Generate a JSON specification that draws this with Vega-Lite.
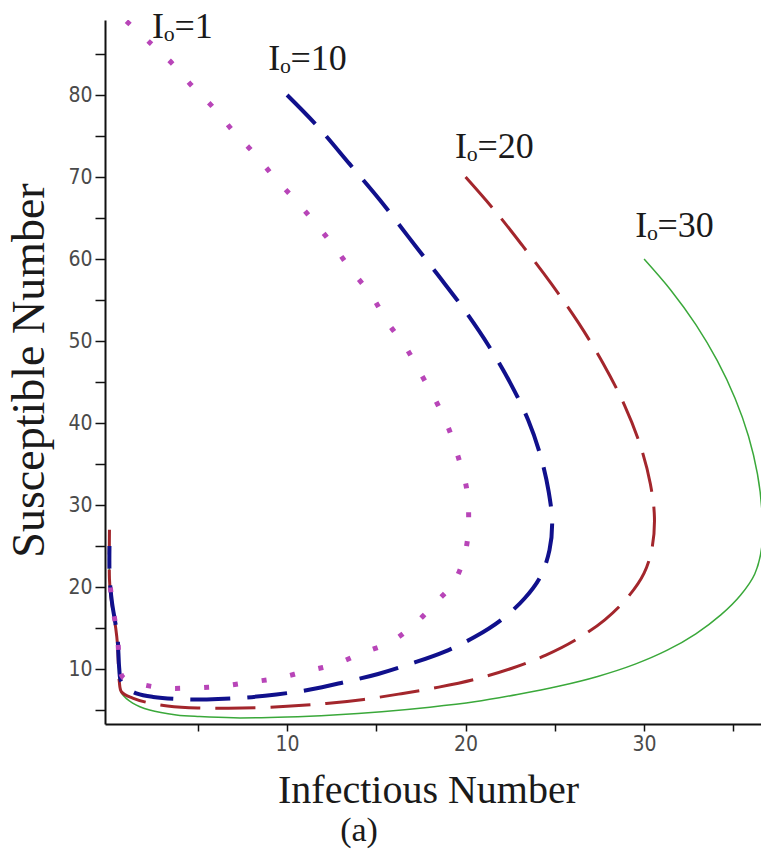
{
  "$schema": "https://vega.github.io/schema/vega-lite/v6.json",
  "width": 656,
  "height": 704,
  "autosize": "none",
  "padding": {"left": 105, "top": 20, "right": 0, "bottom": 143},
  "background": "white",
  "config": {
    "view": {"stroke": null},
    "font": "Liberation Serif",
    "axis": {"labelFont": "Liberation Sans Narrow, DejaVu Sans Condensed, sans-serif"}
  },
  "title": {
    "text": "(a)",
    "orient": "bottom",
    "anchor": "middle",
    "dx": -74,
    "offset": 4,
    "font": "Liberation Serif",
    "fontSize": 34,
    "fontWeight": "normal",
    "color": "#1a1a1a"
  },
  "datasets": {
    "curves": [
      {"curve": "I0=1", "order": 1, "infectious": 1.0, "susceptible": 89.0},
      {"curve": "I0=1", "order": 2, "infectious": 2.36, "susceptible": 86.3},
      {"curve": "I0=1", "order": 3, "infectious": 3.54, "susceptible": 83.9},
      {"curve": "I0=1", "order": 4, "infectious": 4.72, "susceptible": 81.0},
      {"curve": "I0=1", "order": 5, "infectious": 5.9, "susceptible": 78.4},
      {"curve": "I0=1", "order": 6, "infectious": 7.02, "susceptible": 75.5},
      {"curve": "I0=1", "order": 7, "infectious": 8.15, "susceptible": 72.9},
      {"curve": "I0=1", "order": 8, "infectious": 9.27, "susceptible": 70.0},
      {"curve": "I0=1", "order": 9, "infectious": 10.45, "susceptible": 67.2},
      {"curve": "I0=1", "order": 10, "infectious": 11.57, "susceptible": 64.4},
      {"curve": "I0=1", "order": 11, "infectious": 12.64, "susceptible": 61.5},
      {"curve": "I0=1", "order": 12, "infectious": 13.65, "susceptible": 58.5},
      {"curve": "I0=1", "order": 13, "infectious": 14.72, "susceptible": 55.6},
      {"curve": "I0=1", "order": 14, "infectious": 15.62, "susceptible": 52.3},
      {"curve": "I0=1", "order": 15, "infectious": 16.63, "susceptible": 49.3},
      {"curve": "I0=1", "order": 16, "infectious": 17.47, "susceptible": 46.1},
      {"curve": "I0=1", "order": 17, "infectious": 18.31, "susceptible": 42.8},
      {"curve": "I0=1", "order": 18, "infectious": 19.04, "susceptible": 39.4},
      {"curve": "I0=1", "order": 19, "infectious": 19.61, "susceptible": 35.7},
      {"curve": "I0=1", "order": 20, "infectious": 20.06, "susceptible": 32.0},
      {"curve": "I0=1", "order": 21, "infectious": 20.17, "susceptible": 28.2},
      {"curve": "I0=1", "order": 22, "infectious": 20.0, "susceptible": 24.4},
      {"curve": "I0=1", "order": 23, "infectious": 19.38, "susceptible": 20.7},
      {"curve": "I0=1", "order": 24, "infectious": 18.37, "susceptible": 18.2},
      {"curve": "I0=1", "order": 25, "infectious": 17.1, "susceptible": 15.4},
      {"curve": "I0=1", "order": 26, "infectious": 15.8, "susceptible": 13.3},
      {"curve": "I0=1", "order": 27, "infectious": 14.27, "susceptible": 12.0},
      {"curve": "I0=1", "order": 28, "infectious": 12.7, "susceptible": 10.6},
      {"curve": "I0=1", "order": 29, "infectious": 11.12, "susceptible": 9.76},
      {"curve": "I0=1", "order": 30, "infectious": 9.49, "susceptible": 8.9},
      {"curve": "I0=1", "order": 31, "infectious": 7.92, "susceptible": 8.4},
      {"curve": "I0=1", "order": 32, "infectious": 6.29, "susceptible": 7.9},
      {"curve": "I0=1", "order": 33, "infectious": 4.72, "susceptible": 7.7},
      {"curve": "I0=1", "order": 34, "infectious": 3.03, "susceptible": 7.7},
      {"curve": "I0=1", "order": 35, "infectious": 1.57, "susceptible": 8.3},
      {"curve": "I0=1", "order": 36, "infectious": 0.8, "susceptible": 9.0},
      {"curve": "I0=1", "order": 37, "infectious": 0.6, "susceptible": 10.5},
      {"curve": "I0=1", "order": 38, "infectious": 0.55, "susceptible": 12.5},
      {"curve": "I0=1", "order": 39, "infectious": 0.5, "susceptible": 14.0},
      {"curve": "I0=1", "order": 40, "infectious": 0.35, "susceptible": 16.0},
      {"curve": "I0=1", "order": 41, "infectious": 0.2, "susceptible": 18.0},
      {"curve": "I0=1", "order": 42, "infectious": 0.1, "susceptible": 20.0},
      {"curve": "I0=1", "order": 43, "infectious": 0.05, "susceptible": 21.0},

      {"curve": "I0=10", "order": 1, "infectious": 10.0, "susceptible": 80.0},
      {"curve": "I0=10", "order": 2, "infectious": 11.7, "susceptible": 76.2},
      {"curve": "I0=10", "order": 3, "infectious": 13.5, "susceptible": 71.6},
      {"curve": "I0=10", "order": 4, "infectious": 15.2, "susceptible": 67.2},
      {"curve": "I0=10", "order": 5, "infectious": 16.8, "susceptible": 62.7},
      {"curve": "I0=10", "order": 6, "infectious": 18.4, "susceptible": 58.2},
      {"curve": "I0=10", "order": 7, "infectious": 19.9, "susceptible": 53.9},
      {"curve": "I0=10", "order": 8, "infectious": 21.3, "susceptible": 49.4},
      {"curve": "I0=10", "order": 9, "infectious": 22.5, "susceptible": 44.9},
      {"curve": "I0=10", "order": 10, "infectious": 23.5, "susceptible": 40.4},
      {"curve": "I0=10", "order": 11, "infectious": 24.2, "susceptible": 36.0},
      {"curve": "I0=10", "order": 12, "infectious": 24.65, "susceptible": 31.7},
      {"curve": "I0=10", "order": 13, "infectious": 24.85, "susceptible": 27.8},
      {"curve": "I0=10", "order": 14, "infectious": 24.7, "susceptible": 24.5},
      {"curve": "I0=10", "order": 15, "infectious": 24.2, "susceptible": 21.3},
      {"curve": "I0=10", "order": 16, "infectious": 23.3, "susceptible": 18.6},
      {"curve": "I0=10", "order": 17, "infectious": 22.0, "susceptible": 16.0},
      {"curve": "I0=10", "order": 18, "infectious": 20.5, "susceptible": 13.9},
      {"curve": "I0=10", "order": 19, "infectious": 18.8, "susceptible": 12.1},
      {"curve": "I0=10", "order": 20, "infectious": 17.0, "susceptible": 10.7},
      {"curve": "I0=10", "order": 21, "infectious": 15.1, "susceptible": 9.4},
      {"curve": "I0=10", "order": 22, "infectious": 13.2, "susceptible": 8.4},
      {"curve": "I0=10", "order": 23, "infectious": 11.3, "susceptible": 7.5},
      {"curve": "I0=10", "order": 24, "infectious": 9.4, "susceptible": 6.9},
      {"curve": "I0=10", "order": 25, "infectious": 7.5, "susceptible": 6.5},
      {"curve": "I0=10", "order": 26, "infectious": 5.5, "susceptible": 6.3},
      {"curve": "I0=10", "order": 27, "infectious": 3.8, "susceptible": 6.35},
      {"curve": "I0=10", "order": 28, "infectious": 2.5, "susceptible": 6.6},
      {"curve": "I0=10", "order": 29, "infectious": 1.6, "susceptible": 7.0},
      {"curve": "I0=10", "order": 30, "infectious": 1.1, "susceptible": 7.6},
      {"curve": "I0=10", "order": 31, "infectious": 0.7, "susceptible": 8.5},
      {"curve": "I0=10", "order": 32, "infectious": 0.6, "susceptible": 10.0},
      {"curve": "I0=10", "order": 33, "infectious": 0.55, "susceptible": 12.0},
      {"curve": "I0=10", "order": 34, "infectious": 0.5, "susceptible": 14.0},
      {"curve": "I0=10", "order": 35, "infectious": 0.35, "susceptible": 16.0},
      {"curve": "I0=10", "order": 36, "infectious": 0.2, "susceptible": 18.0},
      {"curve": "I0=10", "order": 37, "infectious": 0.1, "susceptible": 20.0},
      {"curve": "I0=10", "order": 38, "infectious": 0.05, "susceptible": 22.0},
      {"curve": "I0=10", "order": 39, "infectious": 0.05, "susceptible": 25.0},

      {"curve": "I0=20", "order": 1, "infectious": 20.0, "susceptible": 70.0},
      {"curve": "I0=20", "order": 2, "infectious": 21.6, "susceptible": 66.0},
      {"curve": "I0=20", "order": 3, "infectious": 23.2, "susceptible": 61.6},
      {"curve": "I0=20", "order": 4, "infectious": 24.8, "susceptible": 57.0},
      {"curve": "I0=20", "order": 5, "infectious": 26.3, "susceptible": 52.3},
      {"curve": "I0=20", "order": 6, "infectious": 27.7, "susceptible": 47.3},
      {"curve": "I0=20", "order": 7, "infectious": 28.9, "susceptible": 42.2},
      {"curve": "I0=20", "order": 8, "infectious": 29.8, "susceptible": 37.2},
      {"curve": "I0=20", "order": 9, "infectious": 30.35, "susceptible": 32.6},
      {"curve": "I0=20", "order": 10, "infectious": 30.58, "susceptible": 28.5},
      {"curve": "I0=20", "order": 11, "infectious": 30.45, "susceptible": 24.8},
      {"curve": "I0=20", "order": 12, "infectious": 30.0, "susceptible": 21.7},
      {"curve": "I0=20", "order": 13, "infectious": 29.1, "susceptible": 18.8},
      {"curve": "I0=20", "order": 14, "infectious": 27.8, "susceptible": 16.0},
      {"curve": "I0=20", "order": 15, "infectious": 26.2, "susceptible": 13.6},
      {"curve": "I0=20", "order": 16, "infectious": 24.5, "susceptible": 11.7},
      {"curve": "I0=20", "order": 17, "infectious": 22.6, "susceptible": 10.1},
      {"curve": "I0=20", "order": 18, "infectious": 20.6, "susceptible": 8.8},
      {"curve": "I0=20", "order": 19, "infectious": 18.5, "susceptible": 7.8},
      {"curve": "I0=20", "order": 20, "infectious": 16.4, "susceptible": 7.0},
      {"curve": "I0=20", "order": 21, "infectious": 14.3, "susceptible": 6.3},
      {"curve": "I0=20", "order": 22, "infectious": 12.2, "susceptible": 5.8},
      {"curve": "I0=20", "order": 23, "infectious": 10.0, "susceptible": 5.45},
      {"curve": "I0=20", "order": 24, "infectious": 7.5, "susceptible": 5.25},
      {"curve": "I0=20", "order": 25, "infectious": 5.0, "susceptible": 5.25},
      {"curve": "I0=20", "order": 26, "infectious": 3.3, "susceptible": 5.5},
      {"curve": "I0=20", "order": 27, "infectious": 2.2, "susceptible": 5.9},
      {"curve": "I0=20", "order": 28, "infectious": 1.35, "susceptible": 6.46},
      {"curve": "I0=20", "order": 29, "infectious": 0.73, "susceptible": 7.2},
      {"curve": "I0=20", "order": 30, "infectious": 0.6, "susceptible": 8.5},
      {"curve": "I0=20", "order": 31, "infectious": 0.55, "susceptible": 10.5},
      {"curve": "I0=20", "order": 32, "infectious": 0.5, "susceptible": 13.0},
      {"curve": "I0=20", "order": 33, "infectious": 0.4, "susceptible": 15.0},
      {"curve": "I0=20", "order": 34, "infectious": 0.25, "susceptible": 17.0},
      {"curve": "I0=20", "order": 35, "infectious": 0.12, "susceptible": 19.0},
      {"curve": "I0=20", "order": 36, "infectious": 0.05, "susceptible": 21.0},
      {"curve": "I0=20", "order": 37, "infectious": 0.05, "susceptible": 27.0},

      {"curve": "I0=30", "order": 1, "infectious": 30.0, "susceptible": 60.0},
      {"curve": "I0=30", "order": 2, "infectious": 31.5, "susceptible": 56.2},
      {"curve": "I0=30", "order": 3, "infectious": 32.9, "susceptible": 52.0},
      {"curve": "I0=30", "order": 4, "infectious": 34.1, "susceptible": 47.6},
      {"curve": "I0=30", "order": 5, "infectious": 35.1, "susceptible": 43.0},
      {"curve": "I0=30", "order": 6, "infectious": 35.85, "susceptible": 38.4},
      {"curve": "I0=30", "order": 7, "infectious": 36.35, "susceptible": 33.8},
      {"curve": "I0=30", "order": 8, "infectious": 36.6, "susceptible": 29.3},
      {"curve": "I0=30", "order": 9, "infectious": 36.6, "susceptible": 25.0},
      {"curve": "I0=30", "order": 10, "infectious": 36.2, "susceptible": 21.6},
      {"curve": "I0=30", "order": 11, "infectious": 35.4, "susceptible": 19.0},
      {"curve": "I0=30", "order": 12, "infectious": 34.3, "susceptible": 16.6},
      {"curve": "I0=30", "order": 13, "infectious": 32.9, "susceptible": 14.3},
      {"curve": "I0=30", "order": 14, "infectious": 31.3, "susceptible": 12.3},
      {"curve": "I0=30", "order": 15, "infectious": 29.5, "susceptible": 10.6},
      {"curve": "I0=30", "order": 16, "infectious": 27.4, "susceptible": 9.1},
      {"curve": "I0=30", "order": 17, "infectious": 25.2, "susceptible": 7.9},
      {"curve": "I0=30", "order": 18, "infectious": 22.9, "susceptible": 6.9},
      {"curve": "I0=30", "order": 19, "infectious": 20.5, "susceptible": 6.0},
      {"curve": "I0=30", "order": 20, "infectious": 18.0, "susceptible": 5.35},
      {"curve": "I0=30", "order": 21, "infectious": 15.3, "susceptible": 4.8},
      {"curve": "I0=30", "order": 22, "infectious": 12.6, "susceptible": 4.4},
      {"curve": "I0=30", "order": 23, "infectious": 10.0, "susceptible": 4.15},
      {"curve": "I0=30", "order": 24, "infectious": 7.0, "susceptible": 4.05},
      {"curve": "I0=30", "order": 25, "infectious": 5.1, "susceptible": 4.2},
      {"curve": "I0=30", "order": 26, "infectious": 3.8, "susceptible": 4.4},
      {"curve": "I0=30", "order": 27, "infectious": 2.3, "susceptible": 5.0},
      {"curve": "I0=30", "order": 28, "infectious": 1.35, "susceptible": 5.85},
      {"curve": "I0=30", "order": 29, "infectious": 0.73, "susceptible": 7.07},
      {"curve": "I0=30", "order": 30, "infectious": 0.6, "susceptible": 8.5},
      {"curve": "I0=30", "order": 31, "infectious": 0.55, "susceptible": 10.5},
      {"curve": "I0=30", "order": 32, "infectious": 0.5, "susceptible": 13.0},
      {"curve": "I0=30", "order": 33, "infectious": 0.4, "susceptible": 15.0},
      {"curve": "I0=30", "order": 34, "infectious": 0.25, "susceptible": 17.0},
      {"curve": "I0=30", "order": 35, "infectious": 0.12, "susceptible": 19.0},
      {"curve": "I0=30", "order": 36, "infectious": 0.05, "susceptible": 21.0},
      {"curve": "I0=30", "order": 37, "infectious": 0.05, "susceptible": 24.0}
    ],
    "labels": [
      {"text": "Iₒ=1", "infectious": 2.44, "susceptible": 86.95},
      {"text": "Iₒ=10", "infectious": 8.94, "susceptible": 83.05},
      {"text": "Iₒ=20", "infectious": 19.41, "susceptible": 72.32},
      {"text": "Iₒ=30", "infectious": 29.5, "susceptible": 62.68}
    ]
  },
  "encoding": {
    "x": {
      "field": "infectious",
      "type": "quantitative",
      "scale": {"domain": [-0.2, 36.55], "nice": false, "zero": false},
      "axis": {
        "title": "Infectious Number",
        "values": [5, 10, 15, 20, 25, 30, 35],
        "labelExpr": "datum.value % 10 === 0 ? datum.label : ''",
        "labelOverlap": false,
        "labelFlush": false,
        "grid": false,
        "domainColor": "#111111",
        "domainWidth": 2,
        "tickColor": "#111111",
        "tickWidth": 1.5,
        "tickSize": 7,
        "labelFontSize": 21,
        "labelColor": "#4a4a4a",
        "labelPadding": 2,
        "titleFont": "Liberation Serif",
        "titleFontSize": 40,
        "titleFontWeight": "normal",
        "titleColor": "#1a1a1a",
        "titleBaseline": "alphabetic",
        "titleAlign": "center",
        "titleX": 323,
        "titleY": 78
      }
    },
    "y": {
      "field": "susceptible",
      "type": "quantitative",
      "scale": {"domain": [3.3, 89.15], "nice": false, "zero": false},
      "axis": {
        "title": "Susceptible Number",
        "values": [5, 10, 15, 20, 25, 30, 35, 40, 45, 50, 55, 60, 65, 70, 75, 80, 85],
        "labelExpr": "datum.value % 10 === 0 ? datum.label : ''",
        "labelOverlap": false,
        "labelFlush": false,
        "grid": false,
        "domainColor": "#111111",
        "domainWidth": 2,
        "tickColor": "#111111",
        "tickWidth": 1.5,
        "tickSize": 10,
        "labelFontSize": 21,
        "labelColor": "#4a4a4a",
        "labelPadding": 3,
        "titleFont": "Liberation Serif",
        "titleFontSize": 46,
        "titleFontWeight": "normal",
        "titleColor": "#1a1a1a",
        "titleBaseline": "alphabetic",
        "titleAlign": "center",
        "titleAngle": -90,
        "titleX": -62,
        "titleY": 350
      }
    }
  },
  "layer": [
    {
      "data": {"name": "curves"},
      "transform": [{"filter": "datum.curve === 'I0=30'"}],
      "mark": {"type": "line", "color": "#3aa83a", "strokeWidth": 1.5, "interpolate": "catmull-rom", "clip": true},
      "encoding": {"order": {"field": "order", "type": "quantitative"}}
    },
    {
      "data": {"name": "curves"},
      "transform": [{"filter": "datum.curve === 'I0=20'"}],
      "mark": {"type": "line", "color": "#a3262c", "strokeWidth": 3, "strokeDash": [40, 15], "interpolate": "catmull-rom", "clip": true},
      "encoding": {"order": {"field": "order", "type": "quantitative"}}
    },
    {
      "data": {"name": "curves"},
      "transform": [{"filter": "datum.curve === 'I0=10'"}],
      "mark": {"type": "line", "color": "#10108c", "strokeWidth": 4, "strokeDash": [40, 17], "interpolate": "catmull-rom", "clip": true},
      "encoding": {"order": {"field": "order", "type": "quantitative"}}
    },
    {
      "data": {"name": "curves"},
      "transform": [{"filter": "datum.curve === 'I0=1'"}],
      "mark": {"type": "line", "color": "#b845b8", "strokeWidth": 5, "strokeDash": [5, 24], "interpolate": "catmull-rom", "clip": true},
      "encoding": {"order": {"field": "order", "type": "quantitative"}}
    },
    {
      "data": {"name": "labels"},
      "mark": {
        "type": "text",
        "align": "left",
        "baseline": "alphabetic",
        "font": "Liberation Serif",
        "fontSize": 36,
        "color": "#1a1a1a"
      },
      "encoding": {"text": {"field": "text", "type": "nominal"}}
    }
  ]
}
